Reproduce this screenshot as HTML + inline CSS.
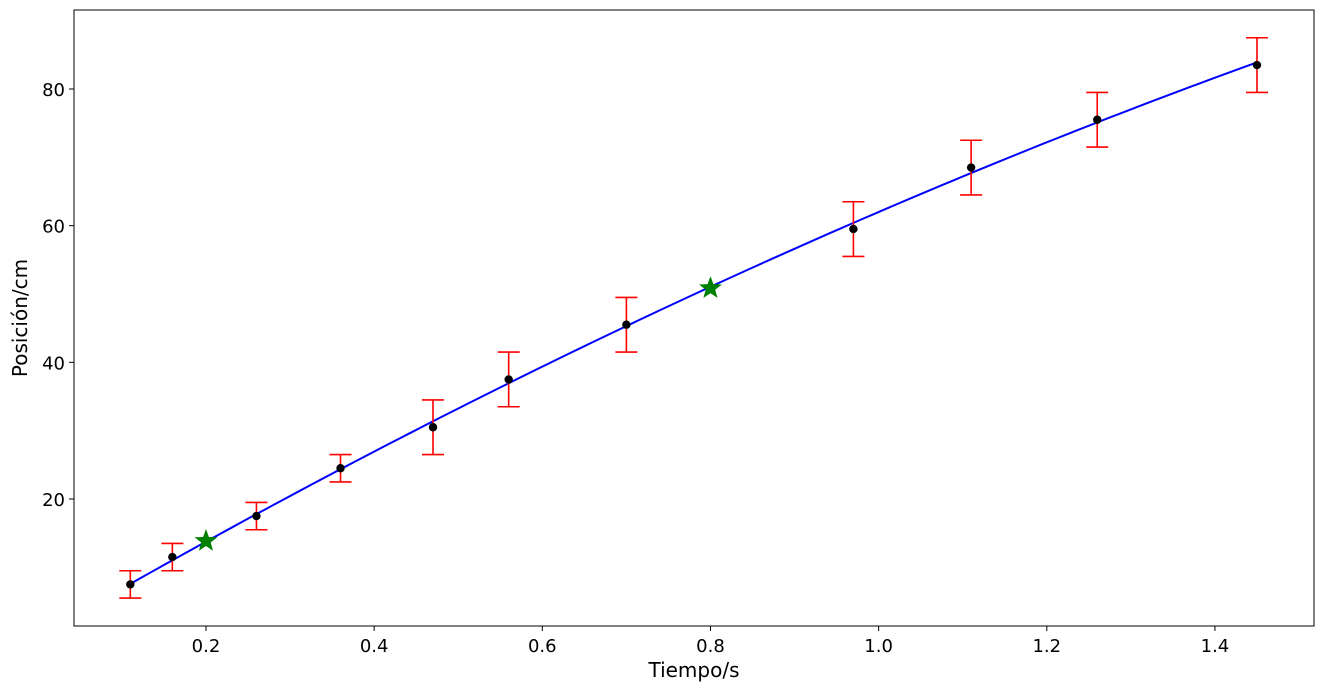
<!DOCTYPE html>
<html><head><meta charset="utf-8"><style>
body{margin:0;background:#fff}
svg{display:block;font-family:"DejaVu Sans","Liberation Sans",sans-serif}
</style></head><body>
<svg id="c" width="1323" height="691"></svg>
<script>
const times=[0.11,0.16,0.26,0.36,0.47,0.56,0.70,0.97,1.11,1.26,1.45];
const positions=[7.5,11.5,17.5,24.5,30.5,37.5,45.5,59.5,68.5,75.5,83.5];
const errors=[2,2,2,2,4,4,4,4,4,4,4];
const starTimes=[0.2,0.8];
const starPositions=[14,51];
const xTicks=[0.2,0.4,0.6,0.8,1.0,1.2,1.4];
const yTicks=[20,40,60,80];

const L=74,R=1314,T=10,B=626;
const X=v=>37.83+v*840.8;
const Y=v=>635.67-v*6.8333;
const svg=document.getElementById('c');
const NS='http://www.w3.org/2000/svg';
function mk(t,a,p){const e=document.createElementNS(NS,t);for(const k in a)e.setAttribute(k,a[k]);(p||svg).appendChild(e);return e;}

function fit(){let S=[0,0,0,0,0],Ty=[0,0,0];
for(let i=0;i<times.length;i++){const t=times[i],y=positions[i];for(let k=0;k<5;k++)S[k]+=Math.pow(t,k);for(let k=0;k<3;k++)Ty[k]+=y*Math.pow(t,k);}
const M=[[S[0],S[1],S[2],Ty[0]],[S[1],S[2],S[3],Ty[1]],[S[2],S[3],S[4],Ty[2]]];
for(let i=0;i<3;i++){for(let j=i+1;j<3;j++){const f=M[j][i]/M[i][i];for(let k=i;k<4;k++)M[j][k]-=f*M[i][k];}}
const c=[0,0,0];for(let i=2;i>=0;i--){let s=M[i][3];for(let k=i+1;k<3;k++)s-=M[i][k]*c[k];c[i]=s/M[i][i];}return c;}
const c=fit();
let d='';const t0=times[0],t1=times[times.length-1];
for(let i=0;i<=100;i++){const t=t0+(t1-t0)*i/100;d+=(i?'L':'M')+X(t).toFixed(2)+','+Y(c[0]+c[1]*t+c[2]*t*t).toFixed(2);}
const fl=mk('path',{d:d,fill:'none',stroke:'#0000ff','stroke-width':2});



times.forEach((t,i)=>{
 const g=mk('g',{stroke:'#ff0000','stroke-width':1.6});
 
 
 const x=X(t),y1=Y(positions[i]-errors[i]),y2=Y(positions[i]+errors[i]);
 mk('line',{x1:x,x2:x,y1:y1,y2:y2},g);
 mk('line',{x1:x-11,x2:x+11,y1:y1,y2:y1},g);
 mk('line',{x1:x-11,x2:x+11,y1:y2,y2:y2},g);
 const p=mk('circle',{cx:x,cy:Y(positions[i]),r:4.2,fill:'#000'});
 
 
});
starTimes.forEach((t,i)=>{
 const cx=X(t),cy=Y(starPositions[i]);let pts=[];
 for(let k=0;k<10;k++){const r=k%2?5:12,a=-Math.PI/2+k*Math.PI/5;pts.push((cx+r*Math.cos(a)).toFixed(1)+','+(cy+1+r*Math.sin(a)).toFixed(1));}
 const s=mk('polygon',{points:pts.join(' '),fill:'#008000'});
 
 
});
const fr=mk('rect',{x:L,y:T,width:R-L,height:B-T,fill:'none',stroke:'#000','stroke-width':1});


xTicks.forEach(v=>{const x=X(v);mk('line',{x1:x,x2:x,y1:B,y2:B+5,stroke:'#000'});
 const tx=mk('text',{x:x,y:B+26,'text-anchor':'middle','font-size':18,fill:'#000'});tx.textContent=v.toFixed(1);
 
 });
yTicks.forEach(v=>{const y=Y(v);mk('line',{x1:L-5,x2:L,y1:y,y2:y,stroke:'#000'});
 const tx=mk('text',{x:L-9,y:y+7,'text-anchor':'end','font-size':18,fill:'#000'});tx.textContent=v;
 
 });
const xt=mk('text',{x:(L+R)/2,y:677,'text-anchor':'middle','font-size':20});xt.textContent='Tiempo/s';


const yt=mk('text',{x:0,y:0,'text-anchor':'middle','font-size':20,transform:'translate(27,318) rotate(-90)'});yt.textContent='Posición/cm';


</script></body></html>
